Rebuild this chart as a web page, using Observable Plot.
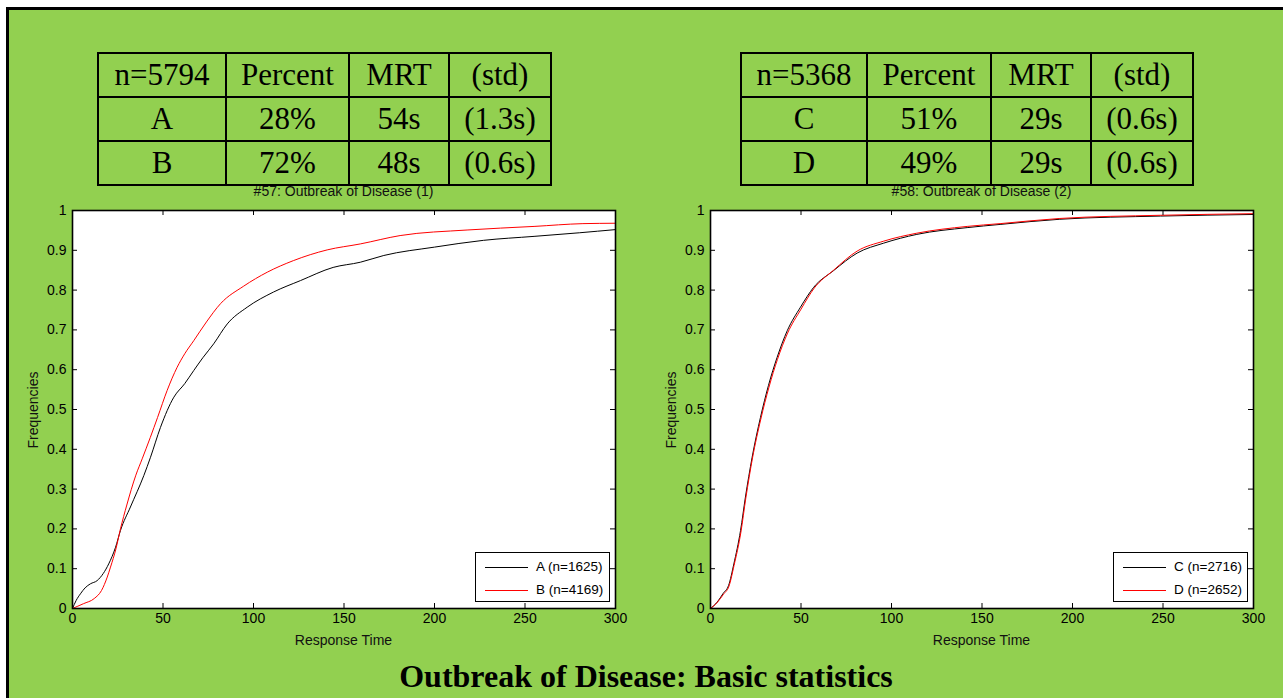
<!DOCTYPE html>
<html>
<head>
<meta charset="utf-8">
<script src="https://cdn.jsdelivr.net/npm/d3@7"></script>
<script src="https://cdn.jsdelivr.net/npm/@observablehq/plot@0.6"></script>
<style>
  html, body { margin: 0; padding: 0; background: #ffffff; }
  body { width: 1283px; height: 698px; position: relative; overflow: hidden; }
  #panel { position: absolute; left: 6px; top: 7px; width: 1280px; height: 695px;
           background: #92D050; border-top: 3px solid #000; border-left: 3px solid #000; }
  .abs { position: absolute; }
  table.stats { position: absolute; border-collapse: collapse; font-family: "Liberation Serif", "Times New Roman", serif;
                font-size: 31px; color: #000; }
  table.stats td { border: 2px solid #000; text-align: center; padding: 0; height: 42px; line-height: 42px; }
  .lbl { font-family: "Liberation Sans", Arial, sans-serif; font-size: 14px; color: #111; white-space: nowrap; }
  .legend { position: absolute; width: 133px; height: 48px; background: #fff; border: 1px solid #000; }
  .legend .row { position: absolute; left: 0; width: 133px; height: 16px; }
  .legend .sw { position: absolute; left: 9px; width: 43px; top: 8px; height: 0; border-top: 1px solid; }
  .legend .tx { position: absolute; left: 60px; top: 0; font-family: "Liberation Sans", Arial, sans-serif; font-size: 13.5px; line-height: 16px; color: #000; white-space: nowrap; }
  #title { position: absolute; left: 0; width: 1292px; top: 658px; text-align: center;
           font-family: "Liberation Serif", "Times New Roman", serif; font-weight: bold; font-size: 32px; color: #000; }
</style>
</head>
<body>
<div id="panel"></div>
<div id="root"></div>
<div id="title">Outbreak of Disease: Basic statistics</div>
<script>
// ---------- data ----------
const xTicks = [0, 50, 100, 150, 200, 250, 300];
const yTicks = [0, 0.1, 0.2, 0.3, 0.4, 0.5, 0.6, 0.7, 0.8, 0.9, 1];

const chartTitles = ["#57: Outbreak of Disease (1)", "#58: Outbreak of Disease (2)"];
const xLabel = "Response Time";
const yLabel = "Frequencies";

const tableHeader1 = ["n=5794", "Percent", "MRT", "(std)"];
const tableRowsLeft = [["A", "28%", "54s", "(1.3s)"], ["B", "72%", "48s", "(0.6s)"]];
const tableHeader2 = ["n=5368", "Percent", "MRT", "(std)"];
const tableRowsRight = [["C", "51%", "29s", "(0.6s)"], ["D", "49%", "29s", "(0.6s)"]];

const legendLeft = ["A (n=1625)", "B (n=4169)"];
const legendRight = ["C (n=2716)", "D (n=2652)"];

// series A (black, left chart)
const timeA = [0, 2, 4.4, 7, 9.9, 13.6, 17, 20, 23.8, 26.5, 32, 39.4, 43.1, 48.6, 56, 62, 67, 72, 78, 85.5, 96.5, 111, 126, 144, 159, 172, 200, 227, 255, 280, 300];
const freqA = [0, 0.02, 0.037, 0.052, 0.062, 0.07, 0.088, 0.112, 0.154, 0.196, 0.255, 0.334, 0.38, 0.455, 0.531, 0.565, 0.598, 0.63, 0.665, 0.715, 0.757, 0.795, 0.824, 0.857, 0.87, 0.887, 0.908, 0.925, 0.935, 0.944, 0.952];
// series B (red, left chart)
const timeB = [0, 6, 12, 16, 19.2, 21, 24, 26.5, 30, 35, 38.5, 43, 47, 52.3, 57.8, 62, 67, 74, 81.8, 94.6, 107.6, 122, 140.7, 159, 181, 218, 255, 282, 300];
const freqB = [0, 0.012, 0.025, 0.045, 0.079, 0.104, 0.15, 0.2, 0.26, 0.335, 0.376, 0.43, 0.48, 0.548, 0.606, 0.64, 0.673, 0.72, 0.766, 0.81, 0.845, 0.874, 0.901, 0.916, 0.937, 0.951, 0.96, 0.967, 0.968];
// series C (black, right chart)
const timeC = [0, 3.7, 7, 10, 12.9, 16.6, 19.3, 23, 27.6, 32, 36.8, 42.4, 49.7, 57, 68, 81, 95.7, 114, 141.8, 160, 193, 248.6, 300];
const freqC = [0, 0.016, 0.038, 0.058, 0.112, 0.196, 0.28, 0.38, 0.48, 0.56, 0.631, 0.698, 0.757, 0.807, 0.849, 0.893, 0.918, 0.94, 0.957, 0.965, 0.978, 0.986, 0.99];
// series D (red, right chart)
const timeD = [0, 3.5, 7.2, 10.2, 13, 16.8, 19.5, 23.2, 27.8, 32.3, 37, 42.6, 50, 57.3, 68, 81, 95.7, 114, 141.8, 160, 193, 248.6, 300];
const freqD = [0, 0.014, 0.036, 0.056, 0.108, 0.192, 0.277, 0.378, 0.476, 0.556, 0.626, 0.692, 0.752, 0.805, 0.85, 0.898, 0.923, 0.943, 0.96, 0.967, 0.98, 0.988, 0.992];

// ---------- layout ----------
const root = document.getElementById("root");
function el(tag, cls, style, text) {
  const e = document.createElement(tag);
  if (cls) e.className = cls;
  Object.assign(e.style, style || {});
  if (text != null) e.textContent = text;
  return e;
}

function makeTable(left, header, rows, widths) {
  const t = el("table", "stats", {left: left + "px", top: "52px"});
  [header, ...rows].forEach(r => {
    const tr = document.createElement("tr");
    r.forEach((c, i) => { const td = el("td", null, {width: widths[i] + "px"}, c); tr.appendChild(td); });
    t.appendChild(tr);
  });
  root.appendChild(t);
}
makeTable(97, tableHeader1, tableRowsLeft, [126, 121, 98, 100]);
makeTable(740, tableHeader2, tableRowsRight, [124, 122, 98, 100]);

const W = 610, H = 460, mL = 52, mR = 15, mT = 10, mB = 52;
const innerW = W - mL - mR, innerH = H - mT - mB;

function toRows(ts, fs, name) { return ts.map((t, i) => ({t, f: fs[i], s: name})); }

function makeChart(svgLeft, title, s1, s2, legendTexts) {
  const data = [...s1, ...s2];
  const chart = Plot.plot({
    width: W, height: H,
    marginLeft: mL, marginRight: mR, marginTop: mT, marginBottom: mB,
    style: {background: "transparent", color: "#000", fontFamily: "Liberation Sans, Arial, sans-serif", fontSize: "14px"},
    x: {domain: [0, 300]},
    y: {domain: [0, 1]},
    marks: [
      Plot.frame({fill: "white", stroke: null}),
      Plot.line(data, {x: "t", y: "f", z: "s", stroke: d => d.s === s1[0].s ? "#000" : "#ff0000", strokeWidth: 1, curve: "monotone-x"}),
      Plot.ruleX(xTicks, {insetTop: innerH - 5, stroke: "#000"}),
      Plot.ruleX(xTicks, {insetBottom: innerH - 5, stroke: "#000"}),
      Plot.ruleY(yTicks, {insetRight: innerW - 5, stroke: "#000"}),
      Plot.ruleY(yTicks, {insetLeft: innerW - 5, stroke: "#000"}),
      Plot.axisX({ticks: xTicks, tickSize: 0, tickPadding: 5, label: null, tickFormat: d => `${d}`, fontSize: 14}),
      Plot.axisY({ticks: yTicks, tickSize: 0, tickPadding: 6, label: null, tickFormat: d => `${d}`, fontSize: 14}),
      Plot.frame({stroke: "#000", strokeWidth: 1.6})
    ]
  });
  chart.style.position = "absolute";
  chart.style.left = svgLeft + "px";
  chart.style.top = "200px";
  root.appendChild(chart);

  const frameL = svgLeft + mL, frameR = svgLeft + W - mR;
  const cx = (frameL + frameR) / 2;
  const t = el("div", "lbl abs", {left: (cx - 150) + "px", width: "300px", textAlign: "center", top: "183px"}, title);
  root.appendChild(t);
  const xl = el("div", "lbl abs", {left: (cx - 150) + "px", width: "300px", textAlign: "center", top: "632px"}, xLabel);
  root.appendChild(xl);
  const yl = el("div", "lbl abs", {left: (svgLeft + 13 - 50) + "px", width: "100px", textAlign: "center", top: "402px", transform: "rotate(-90deg)"}, yLabel);
  root.appendChild(yl);

  const lg = el("div", "legend", {left: (frameR - 140) + "px", top: "552px"});
  [["#000", legendTexts[0]], ["#ff0000", legendTexts[1]]].forEach(([c, txt], i) => {
    const row = el("div", "row", {top: (6 + i * 23) + "px"});
    row.appendChild(el("div", "sw", {borderTopColor: c}));
    row.appendChild(el("div", "tx", null, txt));
    lg.appendChild(row);
  });
  root.appendChild(lg);
}

makeChart(20, chartTitles[0], toRows(timeA, freqA, "A"), toRows(timeB, freqB, "B"), legendLeft);
makeChart(658, chartTitles[1], toRows(timeC, freqC, "C"), toRows(timeD, freqD, "D"), legendRight);
</script>
</body>
</html>
